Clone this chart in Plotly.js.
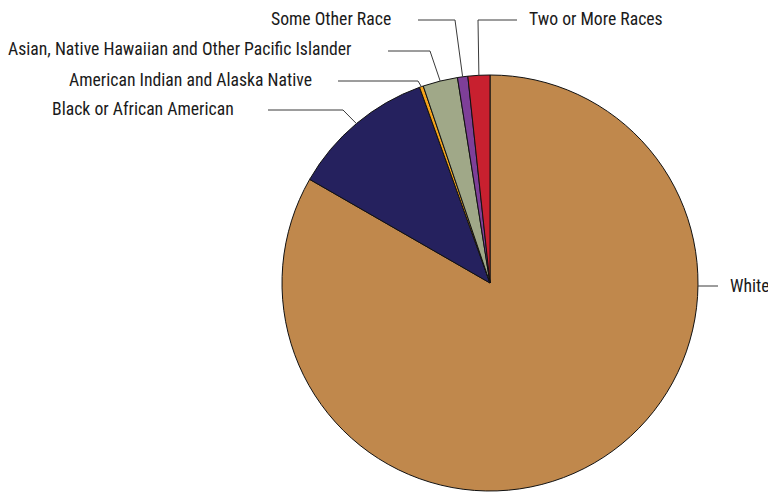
<!DOCTYPE html>
<html><head><meta charset="utf-8">
<script src="https://cdn.plot.ly/plotly-3.0.1.min.js"></script>
<style>html,body{margin:0;padding:0;background:#fff}#chart{width:768px;height:493px}</style>
</head><body><div id="chart"></div>
<script>
const categories = ["White", "Black or African American", "American Indian and Alaska Native",
  "Asian, Native Hawaiian and Other Pacific Islander", "Some Other Race", "Two or More Races"];
const shares = [83.3, 11.2, 0.3, 2.7, 0.8, 1.7];
const sliceColors = ["#C0884C", "#25215E", "#F5A31C", "#A0A888", "#7E3F98", "#C8202F"];

const W = 768, H = 493, CX = 490, CY = 283, R = 208;
const labelPos = [
  {tx: 728, ty: 286, anchor: 'left',  sx: 718, ex: 718, ey: 286, edge: true},
  {tx: 236, ty: 109, anchor: 'right', sx: 268, ex: 343, ey: 110},
  {tx: 314, ty: 80,  anchor: 'right', sx: 338, ex: 418, ey: 81},
  {tx: 354, ty: 49,  anchor: 'right', sx: 388, ex: 430, ey: 51},
  {tx: 393, ty: 19,  anchor: 'right', sx: 418, ex: 455, ey: 20},
  {tx: 527, ty: 19,  anchor: 'left',  sx: 517, ex: 478, ey: 20}
];

const px = x => x / W, py = y => 1 - y / H;
const total = shares.reduce((a, b) => a + b, 0);
let cum = 0;
const shapes = [], annotations = [];
shares.forEach((v, i) => {
  const mid = (cum + v / 2) / total * 2 * Math.PI;
  cum += v;
  const L = labelPos[i];
  let ax, ay;
  if (L.edge) { ay = L.ey; ax = CX + Math.sqrt(R * R - (L.ey - CY) ** 2); }
  else { ax = CX + R * Math.sin(mid); ay = CY - R * Math.cos(mid); }
  shapes.push({type: 'path', xref: 'paper', yref: 'paper',
    path: `M ${px(L.sx)},${py(L.ey)} L ${px(L.ex)},${py(L.ey)} L ${px(ax)},${py(ay)}`,
    line: {color: '#3a3a3a', width: 1}});
  annotations.push({xref: 'paper', yref: 'paper', x: px(L.tx), y: py(L.ty),
    xanchor: L.anchor, yanchor: 'middle', showarrow: false, text: categories[i],
    font: {family: '"Roboto Condensed", "Arial Narrow", Roboto, sans-serif', size: 17.7, color: '#1a1a1a'}});
});

const data = [{
  type: 'pie', labels: categories, values: shares, sort: false, direction: 'clockwise', rotation: 0,
  marker: {colors: sliceColors, line: {color: '#111', width: 1}},
  textinfo: 'none', hoverinfo: 'none', showlegend: false,
  domain: {x: [px(CX - R), px(CX + R)], y: [py(CY + R), py(CY - R)]}
}];
const layout = {width: W, height: H, margin: {l: 0, r: 0, t: 0, b: 0},
  paper_bgcolor: '#fff', showlegend: false, shapes, annotations};
Plotly.newPlot('chart', data, layout, {staticPlot: true});
</script></body></html>
